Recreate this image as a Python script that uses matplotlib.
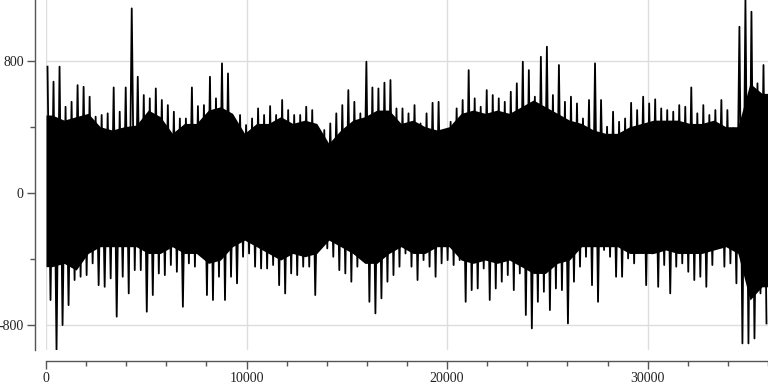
import matplotlib
matplotlib.use("Agg")
import matplotlib.pyplot as plt
from matplotlib.ticker import MultipleLocator
import numpy as np

# signal summarised in bins of 300 samples: highest and lowest value per bin
bin_size = 300
peak_high = [
    766, 675, 766, 523, 553, 654, 644, 584, 463, 473, 483, 640, 493, 640, 1119, 705, 594, 574, 634, 564,
    533, 493, 452, 452, 640, 527, 533, 705, 574, 786, 725, 436, 473, 412, 452, 513, 473, 527, 473, 564,
    503, 473, 473, 523, 503, 321, 382, 422, 483, 533, 624, 553, 483, 796, 640, 634, 669, 685, 513, 513,
    483, 533, 422, 483, 547, 553, 362, 432, 513, 564, 745, 574, 523, 624, 594, 574, 553, 614, 665, 796,
    745, 584, 826, 887, 594, 776, 553, 584, 543, 452, 564, 786, 564, 402, 493, 432, 452, 547, 503, 584,
    543, 568, 513, 503, 493, 533, 523, 640, 483, 533, 473, 503, 564, 503, 392, 1008, 1170, 1099, 665, 776,
]
peak_low = [
    -648, -951, -800, -679, -527, -507, -497, -426, -558, -568, -517, -749, -507, -608, -467, -467, -719, -618, -487, -497,
    -436, -477, -689, -426, -446, -366, -618, -648, -507, -648, -507, -547, -386, -366, -446, -457, -457, -436, -558, -608,
    -487, -497, -446, -446, -618, -325, -335, -386, -467, -487, -537, -446, -406, -659, -729, -638, -537, -497, -446, -366,
    -446, -527, -406, -446, -507, -426, -406, -436, -406, -659, -588, -578, -457, -648, -578, -537, -497, -588, -487, -739,
    -820, -659, -598, -709, -578, -588, -790, -537, -446, -386, -558, -659, -345, -386, -507, -507, -396, -426, -345, -558,
    -366, -568, -436, -608, -446, -426, -477, -527, -507, -568, -436, -325, -446, -426, -547, -911, -911, -881, -608, -790,
]

# height of the dense, solid black band, per 600 samples
band_size = 600
band_high = [
    473, 442, 463, 483, 402, 382, 402, 412, 503, 463, 362, 422, 422, 503, 523, 483, 362, 422, 422, 463,
    422, 442, 422, 301, 382, 442, 463, 503, 503, 422, 442, 402, 382, 402, 483, 503, 483, 503, 483, 523,
    564, 523, 483, 442, 422, 382, 362, 362, 402, 422, 442, 442, 442, 422, 422, 442, 402, 402, 665, 604,
]
band_low = [
    -446, -426, -467, -366, -325, -325, -325, -325, -366, -366, -325, -366, -366, -426, -406, -325, -285, -325, -366, -406,
    -366, -386, -366, -285, -325, -366, -426, -426, -366, -325, -366, -366, -325, -325, -406, -426, -406, -426, -406, -446,
    -487, -487, -426, -406, -325, -325, -325, -325, -366, -366, -366, -345, -366, -366, -366, -345, -325, -366, -648, -568,
]

# zigzag through the peaks: high early in the bin, low later
xs, ys = [], []
for i, (hi, lo) in enumerate(zip(peak_high, peak_low)):
    start = i * bin_size
    xs += [start + 75, start + 225]
    ys += [hi, lo]
xs = np.array(xs)
ys = np.array(ys)

# band values sit at the middle of each stretch; hold the end values out to the edges
n_band = len(band_high)
band_x = np.concatenate([[0], np.arange(n_band) * band_size + band_size / 2, [n_band * band_size]])
band_top = np.concatenate([[band_high[0]], band_high, [band_high[-1]]])
band_bottom = np.concatenate([[band_low[0]], band_low, [band_low[-1]]])

plt.rcParams['font.family'] = ['Liberation Serif', 'DejaVu Serif']
plt.rcParams['axes.unicode_minus'] = False

fig = plt.figure(figsize=(7.68, 3.84), dpi=100)
ax = fig.add_axes([46 / 768, 34 / 384, 722 / 768, 350 / 384])

ax.fill_between(band_x, band_bottom, band_top, color='black', lw=0)
ax.plot(xs, ys, color='black', lw=1.3)

ax.set_xlim(0, 36000)
ax.set_ylim(min(peak_low), max(peak_high))

ax.xaxis.set_major_locator(MultipleLocator(10000))
ax.xaxis.set_minor_locator(MultipleLocator(2000))
ax.yaxis.set_major_locator(MultipleLocator(800))
ax.yaxis.set_minor_locator(MultipleLocator(400))

ax.grid(True, which='major', color='#dddddd', lw=1)
ax.set_axisbelow(True)

for side in ['top', 'right']:
    ax.spines[side].set_visible(False)
for side in ['left', 'bottom']:
    ax.spines[side].set_position(('outward', 8))
    ax.spines[side].set_color('#555555')
    ax.spines[side].set_linewidth(1)

ax.tick_params(which='major', length=6, width=1, color='#555555', labelsize=10,
               labelcolor='#222222', pad=2)
ax.tick_params(which='minor', length=3.5, width=1, color='#555555')

fig.savefig('out.png', dpi=100)
